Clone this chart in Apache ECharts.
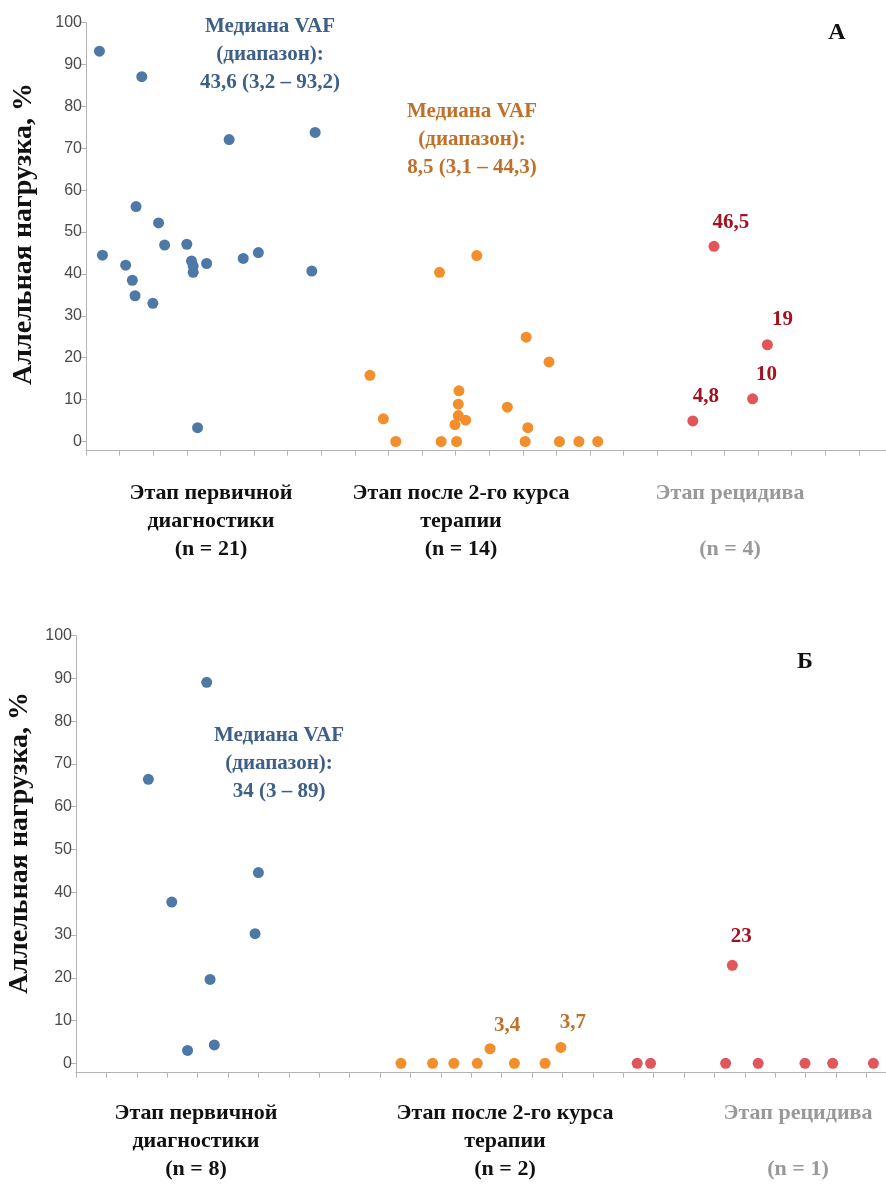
<!DOCTYPE html>
<html>
<head>
<meta charset="utf-8">
<script src="https://cdn.jsdelivr.net/npm/echarts@6/dist/echarts.min.js"></script>
<style>
html,body{margin:0;padding:0;background:#fff;}
#chart{width:886px;height:1184px;}
</style>
</head>
<body>
<div id="chart"></div>
<script>
// ---------- DATA ----------
// Panel A
const aDiagX = [0.40,1.66,4.26,6.82,1.49,2.16,0.49,2.34,3.00,3.14,3.19,3.19,3.59,4.68,5.13,6.72,1.18,1.38,1.46,1.99,3.32];
const aDiagY = [93.2,87.1,72.1,73.8,56.1,52.2,44.5,46.9,47.1,43.1,41.9,40.4,42.5,43.7,45.1,40.7,42.1,38.5,34.8,33.0,3.3];
const aTherX = [10.52,11.63,8.45,8.85,9.22,10.57,11.03,11.10,11.08,11.08,11.30,10.98,12.54,13.10,13.78,13.15,13.07,14.09,14.67,15.23];
const aTherY = [40.4,44.4,15.8,5.4,0,0,0,12.1,8.9,6.2,5.1,4.0,8.2,24.9,19.0,3.3,0,0,0,0];
const aRelX = [18.06,18.69,19.84,20.28];
const aRelY = [4.9,46.6,10.2,23.1];
const aRelLabels = ['4,8','46,5','10','19'];
// Panel Б
const bDiagX = [4.30,2.38,6.00,3.15,5.89,4.41,3.67,4.55];
const bDiagY = [89.1,66.4,44.6,37.7,30.3,19.6,3.0,4.3];
const bTherX = [10.69,11.73,12.43,13.20,13.62,14.42,15.43,15.95];
const bTherY = [0,0,0,0,3.4,0,0,3.7];
const bTherLabels = ['','','','','3,4','','','3,7'];
const bRelX = [18.46,18.90,21.37,21.59,22.44,23.98,24.89,26.23];
const bRelY = [0,0,0,22.9,0,0,0,0];
const bRelLabels = ['','','','23','','','',''];
// Text
const yTicks = [0,10,20,30,40,50,60,70,80,90,100];
const yTitle = 'Аллельная нагрузка, %';
const catA = ['Этап первичной\nдиагностики\n(n = 21)','Этап после 2-го курса\nтерапии\n(n = 14)','Этап рецидива\n\n(n = 4)'];
const catB = ['Этап первичной\nдиагностики\n(n = 8)','Этап после 2-го курса\nтерапии\n(n = 2)','Этап рецидива\n\n(n = 1)'];
const medA1 = 'Медиана VAF\n(диапазон):\n43,6 (3,2 – 93,2)';
const medA2 = 'Медиана VAF\n(диапазон):\n8,5 (3,1 – 44,3)';
const medB1 = 'Медиана VAF\n(диапазон):\n34 (3 – 89)';

// ---------- STYLE ----------
const BLUE = '#4e79a7', ORANGE = '#f28e2b', RED = '#e15759';
const SERIF = '"Liberation Serif","Times New Roman",serif';
const zip = (xs, ys) => xs.map((x, i) => [x, ys[i]]);

function labelled(xs, ys, labels, offsets, color) {
  return xs.map((x, i) => {
    const item = { value: [x, ys[i]] };
    if (labels[i]) {
      item.label = {
        show: true, position: 'top', formatter: labels[i],
        offset: offsets[i] || [12, -3],
        fontFamily: SERIF, fontWeight: 'bold', fontSize: 21, color: color
      };
    }
    return item;
  });
}

const axisLineStyle = { color: '#b4b4b4', width: 1 };
function xAx(gi, max) {
  return {
    type: 'value', gridIndex: gi, min: 0, max: max, interval: 1,
    axisLine: { show: true, onZero: false, lineStyle: axisLineStyle },
    axisTick: { show: true, length: 5, lineStyle: axisLineStyle },
    axisLabel: { show: false }, splitLine: { show: false }
  };
}
function yAx(gi) {
  return {
    type: 'value', gridIndex: gi, min: -2.2, max: 100,
    axisLine: { show: true, onZero: false, lineStyle: axisLineStyle },
    axisTick: { show: true, length: 5, customValues: yTicks, lineStyle: axisLineStyle },
    axisLabel: { show: true, customValues: yTicks, color: '#4a4a4a', fontSize: 16,
                 fontFamily: '"Liberation Sans", Arial, sans-serif', margin: 4 },
    splitLine: { show: false }
  };
}
function sc(xi, data, color) {
  return { type: 'scatter', xAxisIndex: xi, yAxisIndex: xi, data: data, symbolSize: 11,
           itemStyle: { color: color, opacity: 1 }, silent: true, animation: false };
}
function txt(x, y, text, color, size, opts) {
  return Object.assign({
    type: 'text', x: x, y: y, silent: true,
    style: { text: text, fill: color, fontFamily: SERIF, fontWeight: 'bold', fontSize: size,
             lineHeight: 28, align: 'center', verticalAlign: 'middle' }
  }, opts || {});
}

const chart = echarts.init(document.getElementById('chart'), null, { renderer: 'canvas' });
chart.setOption({
  backgroundColor: '#fff',
  animation: false,
  grid: [
    { left: 86, top: 22.7, width: 800, height: 428 },
    { left: 76, top: 635.7, width: 810, height: 437 }
  ],
  xAxis: [ xAx(0, 800 / 33.6), xAx(1, 810 / 30.4) ],
  yAxis: [ yAx(0), yAx(1) ],
  series: [
    sc(0, zip(aDiagX, aDiagY), BLUE),
    sc(0, zip(aTherX, aTherY), ORANGE),
    sc(0, labelled(aRelX, aRelY, aRelLabels, [[13,-3],[17,-3],[14,-3],[15,-4]], '#a3121f'), RED),
    sc(1, zip(bDiagX, bDiagY), BLUE),
    sc(1, labelled(bTherX, bTherY, bTherLabels, [null,null,null,null,[17,-2],null,null,[12,-4]], '#c0702a'), ORANGE),
    sc(1, labelled(bRelX, bRelY, bRelLabels, [null,null,null,[9,-8]], '#a3121f'), RED)
  ],
  graphic: [
    txt(24, 234, yTitle, '#111', 28, { rotation: Math.PI / 2 }),
    txt(20, 843, yTitle, '#111', 28, { rotation: Math.PI / 2 }),
    txt(270, 55, medA1, '#3d5f88', 21),
    txt(472, 140, medA2, '#c0702a', 21),
    txt(279, 764, medB1, '#3d5f88', 21),
    txt(837, 33, 'А', '#111', 24),
    txt(805, 662, 'Б', '#111', 24),
    txt(211, 521, catA[0], '#111', 22),
    txt(461, 521, catA[1], '#111', 22),
    txt(730, 521, catA[2], '#999', 22),
    txt(196, 1141, catB[0], '#111', 22),
    txt(505, 1141, catB[1], '#111', 22),
    txt(798, 1141, catB[2], '#999', 22)
  ]
});
</script>
</body>
</html>
